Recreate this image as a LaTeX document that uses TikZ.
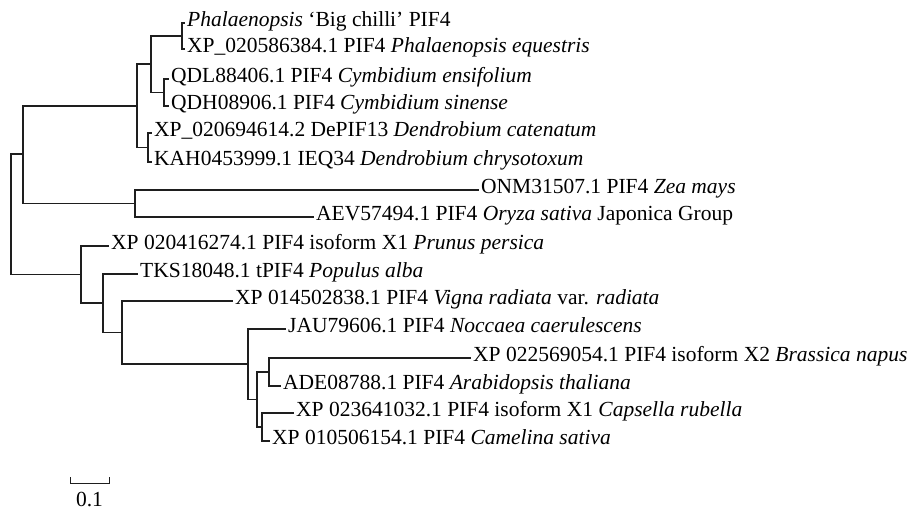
\documentclass[tikz,border=0pt]{standalone}
\usepackage{fontspec}
\setmainfont{Liberation Serif}
\usepackage{tikz}
\definecolor{cLine}{HTML}{1E1E1E}
\tikzset{
  leaf/.style={anchor=west, inner sep=3pt, font=\fontsize{21.5}{24}\selectfont,
    text height=0.66em, text depth=0pt},
  branch/.style={draw=cLine, line width=1.3pt, line cap=rect},
  scalebar/.style={draw=cLine, line width=1pt},
}

\begin{document}
\begin{tikzpicture}[x=1pt, y=-1pt]
    \useasboundingbox (0,0) rectangle (911,509);
    % internal nodes of the tree
    \coordinate (nA) at (182,36);
    \coordinate (nB) at (164,92.5);
    \coordinate (nC) at (151,64);
    \coordinate (nD) at (148,147.5);
    \coordinate (nE) at (137,106);
    \coordinate (nF) at (135,203.5);
    \coordinate (nG) at (23,154);
    \coordinate (nH) at (262,427);
    \coordinate (nI) at (269,372);
    \coordinate (nJ) at (257,399.5);
    \coordinate (nK) at (248,364);
    \coordinate (nM) at (122,332.5);
    \coordinate (nN) at (103,303);
    \coordinate (nP) at (81,274.5);
    \coordinate (root) at (11,214);
    % leaves, monocots
    \node[leaf] (phal) at (184,23) {\textit{Phalaenopsis} `Big chilli' PIF4};
    \node[leaf] (pequ) at (184,49) {XP\_020586384.1 PIF4 \textit{Phalaenopsis equestris}};
    \node[leaf] (cens) at (168,79) {QDL88406.1 PIF4 \textit{Cymbidium ensifolium}};
    \node[leaf] (csin) at (168,106) {QDH08906.1 PIF4 \textit{Cymbidium sinense}};
    \node[leaf] (dcat) at (151,133) {XP\_020694614.2 DePIF13 \textit{Dendrobium catenatum}};
    \node[leaf] (dchr) at (151,162) {KAH0453999.1 IEQ34 \textit{Dendrobium chrysotoxum}};
    \node[leaf] (zmay) at (478,190) {ONM31507.1 PIF4 \textit{Zea mays}};
    \node[leaf] (osat) at (313,217) {AEV57494.1 PIF4 \textit{Oryza sativa} Japonica Group};
    % leaves, eudicots
    \node[leaf] (pper) at (108,246) {XP 020416274.1 PIF4 isoform X1 \textit{Prunus persica}};
    \node[leaf] (palb) at (137,274) {TKS18048.1 tPIF4 \textit{Populus alba}};
    \node[leaf] (vrad) at (232,301) {XP 014502838.1 PIF4 \textit{Vigna radiata} var. \textit{radiata}};
    \node[leaf] (ncae) at (285,329) {JAU79606.1 PIF4 \textit{Noccaea caerulescens}};
    \node[leaf] (bnap) at (470,358) {XP 022569054.1 PIF4 isoform X2 \textit{Brassica napus}};
    \node[leaf] (atha) at (280,386) {ADE08788.1 PIF4 \textit{Arabidopsis thaliana}};
    \node[leaf] (crub) at (293,413) {XP 023641032.1 PIF4 isoform X1 \textit{Capsella rubella}};
    \node[leaf] (csat) at (269,441) {XP 010506154.1 PIF4 \textit{Camelina sativa}};
    % branches
    \draw[branch] (nA) |- (phal);
    \draw[branch] (nA) |- (pequ);
    \draw[branch] (nB) |- (cens);
    \draw[branch] (nB) |- (csin);
    \draw[branch] (nC) |- (nA);
    \draw[branch] (nC) |- (nB);
    \draw[branch] (nD) |- (dcat);
    \draw[branch] (nD) |- (dchr);
    \draw[branch] (nE) |- (nC);
    \draw[branch] (nE) |- (nD);
    \draw[branch] (nF) |- (zmay);
    \draw[branch] (nF) |- (osat);
    \draw[branch] (nG) |- (nE);
    \draw[branch] (nG) |- (nF);
    \draw[branch] (nH) |- (crub);
    \draw[branch] (nH) |- (csat);
    \draw[branch] (nI) |- (bnap);
    \draw[branch] (nI) |- (atha);
    \draw[branch] (nJ) |- (nI);
    \draw[branch] (nJ) |- (nH);
    \draw[branch] (nK) |- (ncae);
    \draw[branch] (nK) |- (nJ);
    \draw[branch] (nM) |- (vrad);
    \draw[branch] (nM) |- (nK);
    \draw[branch] (nN) |- (palb);
    \draw[branch] (nN) |- (nM);
    \draw[branch] (nP) |- (pper);
    \draw[branch] (nP) |- (nN);
    \draw[branch] (root) |- (nG);
    \draw[branch] (root) |- (nP);
    % scale bar
    \coordinate (sbL) at (70,477);
    \coordinate (sbR) at (109,477);
    \draw[scalebar] (sbL) -- ++(0,6) -| (sbR);
    \node[font=\fontsize{21.5}{24}\selectfont] (sblabel) at (89.5,499) {0.1};
\end{tikzpicture}
\end{document}
